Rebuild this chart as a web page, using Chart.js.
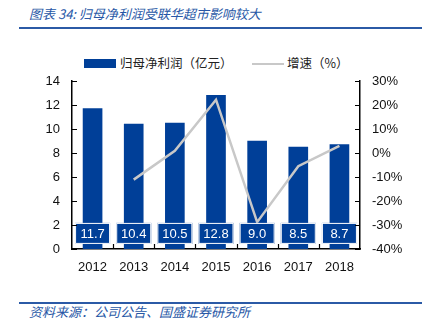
<!DOCTYPE html>
<html>
<head>
<meta charset="utf-8">
<script src="https://cdn.jsdelivr.net/npm/chart.js@4/dist/chart.umd.min.js"></script>
<style>
  body { margin: 0; background: #fff; width: 422px; height: 328px; position: relative; overflow: hidden; }
  .cap { position: absolute; left: 29px; font: italic 13px "Noto Sans CJK SC", sans-serif; color: #2757a6; white-space: nowrap; }
  .rule { position: absolute; left: 19px; right: 0; background: #2b5aa6; }
  #legend { position: absolute; top: 54px; left: 0; width: 422px; height: 18px; font: 12.5px "Noto Sans CJK SC", sans-serif; color: #222; }
  #legend span { position: absolute; top: 0; line-height: 18px; white-space: nowrap; }
  .sw { position: absolute; }
  #box { position: absolute; left: 0; top: 40px; width: 422px; height: 250px; }
</style>
</head>
<body>
<div class="cap" style="top:4px">图表 34:  归母净利润受联华超市影响较大</div>
<div class="rule" style="top:27px;height:2px"></div>

<div id="legend">
  <div class="sw" style="left:84px;top:5px;width:32px;height:9px;background:#003f98"></div>
  <span style="left:120px">归母净利润（亿元）</span>
  <div class="sw" style="left:252px;top:9px;width:32px;height:2px;background:#c8c8c8"></div>
  <span style="left:287px">增速（%）</span>
</div>

<div id="box"><canvas id="c"></canvas></div>

<div class="rule" style="top:302px;height:1.5px"></div>
<div class="cap" style="top:302px">资料来源：公司公告、国盛证券研究所</div>

<script>
const years = ['2012', '2013', '2014', '2015', '2016', '2017', '2018'];
const profit = [11.7, 10.4, 10.5, 12.8, 9.0, 8.5, 8.7];
const growth = [null, -11.1, 0.9, 22.2, -28.8, -5.5, 3.0];
const leftTicks = [0, 2, 4, 6, 8, 10, 12, 14];
const rightTicks = [-40, -30, -20, -10, 0, 10, 20, 30];

const BLUE = '#003f98';
const GREY = '#c8c8c8';
const tickFont = { family: '"Liberation Sans", sans-serif', size: 13 };

// value boxes sitting near the bottom of each bar
const valueBoxes = {
  id: 'valueBoxes',
  afterDatasetsDraw(chart) {
    const meta = chart.getDatasetMeta(0);
    const y = chart.scales.y.getPixelForValue(1.3);
    const ctx = chart.ctx;
    ctx.save();
    ctx.font = '13px "Liberation Sans", sans-serif';
    ctx.textAlign = 'center';
    ctx.textBaseline = 'middle';
    meta.data.forEach((bar, i) => {
      const w = 35, h = 21;
      ctx.fillStyle = BLUE;
      ctx.fillRect(bar.x - w / 2, y - h / 2, w, h);
      ctx.strokeStyle = '#fff';
      ctx.lineWidth = 1;
      ctx.strokeRect(bar.x - w / 2 + 0.5, y - h / 2 + 0.5, w - 1, h - 1);
      ctx.fillStyle = '#fff';
      ctx.fillText(profit[i].toFixed(1), bar.x, y + 1);
    });
    ctx.restore();
  }
};

// short tick marks pointing into the plot area
const innerTicks = {
  id: 'innerTicks',
  afterDraw(chart) {
    const { ctx, chartArea: a, scales } = chart;
    ctx.save();
    ctx.strokeStyle = '#000';
    ctx.lineWidth = 1.2;
    ctx.beginPath();
    scales.y.ticks.forEach(t => {
      const py = Math.round(scales.y.getPixelForValue(t.value)) + 0.5;
      ctx.moveTo(a.left, py); ctx.lineTo(a.left + 5, py);
    });
    scales.y1.ticks.forEach(t => {
      const py = Math.round(scales.y1.getPixelForValue(t.value)) + 0.5;
      ctx.moveTo(a.right, py); ctx.lineTo(a.right - 5, py);
    });
    for (let i = 1; i < years.length; i++) {
      const px = Math.round((scales.x.getPixelForValue(i - 1) + scales.x.getPixelForValue(i)) / 2) + 0.5;
      ctx.moveTo(px, a.bottom); ctx.lineTo(px, a.bottom - 5);
    }
    ctx.stroke();
    ctx.restore();
  }
};

new Chart(document.getElementById('c'), {
  data: {
    labels: years,
    datasets: [
      {
        type: 'bar',
        label: '归母净利润（亿元）',
        data: profit,
        backgroundColor: BLUE,
        barThickness: 19,
        yAxisID: 'y',
        order: 2
      },
      {
        type: 'line',
        label: '增速（%）',
        data: growth,
        borderColor: GREY,
        borderWidth: 2.5,
        pointRadius: 0,
        tension: 0,
        yAxisID: 'y1',
        order: 1
      }
    ]
  },
  options: {
    responsive: true,
    maintainAspectRatio: false,
    animation: false,
    layout: { padding: { top: 41, left: 0, right: 0, bottom: 0 } },
    plugins: { legend: { display: false }, tooltip: { enabled: false } },
    scales: {
      x: {
        grid: { display: false, drawTicks: false },
        border: { display: true, color: '#000', width: 1.5 },
        ticks: { color: '#111', font: tickFont, padding: 11, maxRotation: 0 },
        afterFit(s) { s.height = 41; }
      },
      y: {
        position: 'left',
        min: 0, max: 14,
        afterBuildTicks(s) { s.ticks = leftTicks.map(v => ({ value: v })); },
        grid: { display: false, drawTicks: false },
        border: { display: true, color: '#000', width: 1.5 },
        ticks: { color: '#111', font: tickFont, padding: 12 },
        afterFit(s) { s.width = 72; }
      },
      y1: {
        position: 'right',
        min: -40, max: 30,
        afterBuildTicks(s) { s.ticks = rightTicks.map(v => ({ value: v })); },
        grid: { display: false, drawTicks: false },
        border: { display: true, color: '#000', width: 1.5 },
        ticks: { color: '#111', font: tickFont, padding: 12, callback: v => v + '%' },
        afterFit(s) { s.width = 62; }
      }
    }
  },
  plugins: [valueBoxes, innerTicks]
});
</script>
</body>
</html>
